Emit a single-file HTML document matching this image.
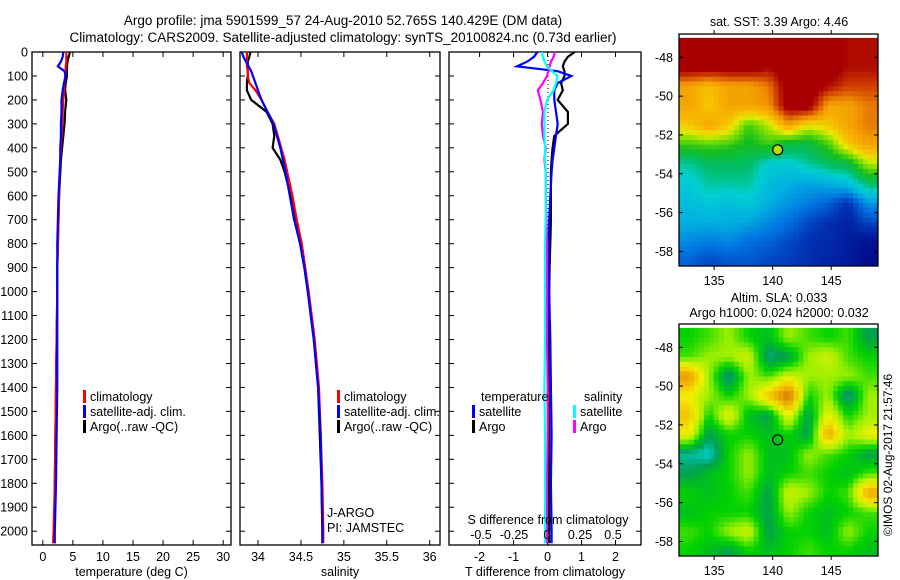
<!DOCTYPE html>
<html><head><meta charset="utf-8">
<style>
html,body{margin:0;padding:0;background:#fff;}
svg{display:block;font-family:"Liberation Sans",sans-serif;}
text{fill:#000;}
</style></head>
<body>
<svg id="fig" width="900" height="580" viewBox="0 0 900 580" xmlns="http://www.w3.org/2000/svg">
<g font-size="13.5" text-anchor="middle">
<text x="343" y="25">Argo profile: jma 5901599_57 24-Aug-2010 52.765S 140.429E (DM data)</text>
<text x="343" y="42">Climatology: CARS2009. Satellite-adjusted climatology: synTS_20100824.nc (0.73d earlier)</text>
</g>
<g id="g1"></g>
<g id="g2"></g>
<g id="g3"></g>
<g id="m1"></g>
<g id="m2"></g>
<text x="0" y="0" font-size="12" text-anchor="middle" transform="translate(892,455) rotate(-90)">©IMOS 02-Aug-2017 21:57:46</text>
</svg>
<script>
const depths=[0,20,40,60,80,100,130,160,200,250,300,350,400,450,500,600,700,800,900,1000,1200,1400,1600,1800,2000,2050];
const tempClim=[3.9,3.9,3.9,3.8,3.8,3.7,3.6,3.5,3.4,3.3,3.2,3.1,3.0,2.9,2.8,2.7,2.6,2.5,2.4,2.4,2.3,2.2,2.1,2.0,1.8,1.7];
const tempSat=[3.4,3.3,3.0,2.5,3.6,3.8,3.5,3.3,3.1,3.1,3.0,3.0,2.9,2.9,2.8,2.6,2.5,2.4,2.4,2.4,2.4,2.4,2.3,2.2,2.0,2.0];
const tempArgo=[4.5,4.3,4.1,4.0,4.0,4.0,3.8,3.7,3.9,3.7,3.6,3.4,3.2,3.0,2.9,2.7,2.6,2.5,2.4,2.4,2.3,2.2,2.1,2.0,1.9,1.9];
const salClim=[33.87,33.87,33.87,33.87,33.88,33.88,33.9,33.97,34.04,34.11,34.19,34.23,34.27,34.31,34.34,34.40,34.45,34.51,34.55,34.59,34.66,34.71,34.73,34.75,34.76,34.76];
const salSat=[33.81,33.83,33.86,33.89,33.92,33.94,33.97,34.0,34.04,34.11,34.18,34.22,34.26,34.29,34.32,34.37,34.42,34.49,34.54,34.58,34.65,34.70,34.73,34.74,34.75,34.75];
const salArgo=[33.91,33.90,33.88,33.88,33.88,33.88,33.87,33.87,33.92,34.10,34.17,34.19,34.17,34.26,34.31,34.38,34.43,34.49,34.54,34.58,34.65,34.70,34.72,34.74,34.75,34.75];
const tDiffSat=[-0.3,-0.4,-0.6,-0.9,0.3,0.7,0.3,0.2,0.2,0.25,0.3,0.25,0.2,0.15,0.12,0.08,0.05,0.03,0.03,0.05,0.08,0.1,0.12,0.1,0.12,0.12];
const tDiffArgo=[0.8,0.6,0.5,0.45,0.5,0.5,0.4,0.45,0.3,0.6,0.6,0.2,0.15,0.12,0.1,0.1,0.1,0.08,0.06,0.05,0.05,0.05,0.05,0.05,0.05,0.05];
const sDiffSat=[-0.04,-0.03,-0.02,0,0.04,0.08,0.07,0.05,0,-0.02,-0.02,-0.02,-0.015,-0.015,-0.01,-0.01,-0.01,-0.015,-0.015,-0.015,-0.015,-0.02,-0.015,-0.015,-0.015,-0.015];
const sDiffArgo=[0.06,0.05,0.03,0.02,0.01,0.0,-0.03,-0.07,-0.05,-0.03,-0.04,-0.03,-0.01,-0.02,-0.01,-0.01,-0.005,0,0,0,0,0.005,0.005,0,0,0];
const depthTicks=[0,100,200,300,400,500,600,700,800,900,1000,1100,1200,1300,1400,1500,1600,1700,1800,1900,2000];
const tempTicks=[0,5,10,15,20,25,30];
const salTicks=[34,34.5,35,35.5,36];
const tDiffTicks=[-2,-1,0,1,2];
const sDiffTicks=[-0.5,-0.25,0,0.25,0.5];
const sstLats=[-47.5,-48.5,-49.5,-50.5,-51.5,-52.5,-53.5,-54.5,-55.5,-56.5,-57.5,-58.5];
const sstLons=[132.85,134.55,136.25,137.95,139.65,141.35,143.05,144.75,146.45,148.15];
const sstValues=[
[8,8,8,8,8,8,8,8,7.5,7.5],
[8,8,8,8,7.6,8,8,8,7.5,7.5],
[6,5.6,6,6,6.5,8,8,7.5,7,7],
[6,5.5,6,6,6.2,8,8,6,6,6.5],
[5.5,6,5.5,4.5,5,6,5.2,5.5,6,6.5],
[4.5,4.6,4.5,4.2,4.5,4,4,4.5,5.5,6],
[3.5,3.8,3.8,3.8,3.2,3.2,3.5,3.8,4,5],
[3.2,3.5,3.5,3.5,3,2.8,2.7,2.8,3,3.8],
[3,3.2,3,3.2,2.8,2.6,2.4,2.2,1.8,2.6],
[2.8,2.8,2.8,2.7,2.5,2.3,2,1.8,1.6,2],
[2.5,2.4,2.5,2.3,2.2,2,1.8,1.7,1.5,1.3],
[2.2,2.0,2.1,2.1,2.0,1.9,1.8,1.6,1.5,1.2]];
const slaValues=[
[0.1,0.12,0.15,0.1,0.08,0.15,0.12,0.1,0.12,0.05],
[0.12,0.15,0.15,0.18,0.03,0.05,0.15,0.18,0.12,0.1],
[0.3,0.15,0.02,0.15,0.12,0.18,0.15,0.15,0.15,0.12],
[0.2,0.15,0.1,0.15,0.25,0.35,0.1,0.15,0.02,0.15],
[0.25,0.1,0.2,0.08,0.05,0.2,0.05,0.2,0.1,0.15],
[0.2,0.05,0.1,0.1,0.08,0.1,0.05,0.28,0.15,0.2],
[0.02,0.0,0.1,0.15,0.08,0.08,0.15,0.12,0.1,0.05],
[0.05,0.08,0.1,0.15,0.08,0.1,0.12,0.1,0.08,0.12],
[0.1,0.08,0.1,0.12,0.05,0.18,0.15,0.1,0.12,0.28],
[0.08,0.1,0.1,0.1,0.05,0.15,0.1,0.08,0.1,0.12],
[0.12,0.1,0.15,0.18,0.05,0.1,0.1,0.08,0.15,0.1],
[0.1,0.08,0.05,0.1,0.08,0.1,0.12,0.1,0.1,0.08]];
const latTicks=[-48,-50,-52,-54,-56,-58];
const lonTicks=[135,140,145];
const argoPos=[140.429,-52.765];

const NS="http://www.w3.org/2000/svg";
function mk(p,tag,a,txt){const e=document.createElementNS(NS,tag);for(const k in a)e.setAttribute(k,a[k]);if(txt!==undefined)e.textContent=txt;p.appendChild(e);return e;}
const PT=52,PB=545;
const yD=d=>PT+d*0.2396;
function line(p){return p.map((q,i)=>(i?'L':'M')+q[0].toFixed(1)+','+q[1].toFixed(1)).join('');}

function panel(g,L,R,x0,x1,ticks,fmt,title,showY){
  const xs=v=>L+(v-x0)/(x1-x0)*(R-L);
  const fr=mk(g,'rect',{x:L,y:PT,width:R-L,height:PB-PT,fill:'none',stroke:'#000','stroke-width':1.3});
  
  depthTicks.forEach(d=>{const y=yD(d);
    mk(g,'line',{x1:L,x2:L+5,y1:y,y2:y,stroke:'#000'});mk(g,'line',{x1:R-5,x2:R,y1:y,y2:y,stroke:'#000'});
    if(showY){const t=mk(g,'text',{x:L-4,y:y+4.5,'font-size':12.5,'text-anchor':'end'},String(d));
      }});
  ticks.forEach(v=>{const x=xs(v);
    mk(g,'line',{x1:x,x2:x,y1:PB,y2:PB-5,stroke:'#000'});mk(g,'line',{x1:x,x2:x,y1:PT,y2:PT+5,stroke:'#000'});
    const t=mk(g,'text',{x:x,y:561,'font-size':12.5,'text-anchor':'middle'},fmt(v));
    });
  const at=mk(g,'text',{x:(L+R)/2,y:576,'font-size':12.5,'text-anchor':'middle'},title);
  
  return xs;
}
function series(g,xs,vals,col,name,w){
  const p=mk(g,'path',{d:line(vals.map((v,i)=>[xs(v),yD(depths[i])])),fill:'none',stroke:col,'stroke-width':w||2.2});
  
}
function legend(g,x,y,col,label,name){
  const b=mk(g,'rect',{x:x,y:y-11,width:3,height:13,fill:col});
  const t=mk(g,'text',{x:x+7,y:y,'font-size':12.5},label);
  
  
}
const g1=document.getElementById('g1');
const xT=panel(g1,32,231,-1.8,31.3,tempTicks,String,'temperature (deg C)',true);
series(g1,xT,tempArgo,'#000','temp-argo-line');
series(g1,xT,tempClim,'#f00','temp-climatology-line');
series(g1,xT,tempSat,'#00f','temp-satellite-line');
legend(g1,83,401,'#f00','climatology','legend-climatology');
legend(g1,83,416,'#00f','satellite-adj. clim.','legend-satellite');
legend(g1,83,431,'#000','Argo(..raw -QC)','legend-argo');
const g2=document.getElementById('g2');
const xS=panel(g2,240,440,33.79,36.12,salTicks,String,'salinity',false);
series(g2,xS,salArgo,'#000','sal-argo-line');
series(g2,xS,salClim,'#f00','sal-climatology-line');
series(g2,xS,salSat,'#00f','sal-satellite-line');
legend(g2,337,401,'#f00','climatology','legend-climatology');
legend(g2,337,416,'#00f','satellite-adj. clim.','legend-satellite');
legend(g2,337,431,'#000','Argo(..raw -QC)','legend-argo');
let t=mk(g2,'text',{x:327,y:517,'font-size':12.5},'J-ARGO');
t=mk(g2,'text',{x:327,y:532,'font-size':12.5},'PI: JAMSTEC');
const g3=document.getElementById('g3');
const xTD=panel(g3,449,641,-2.9,2.75,tDiffTicks,String,'T difference from climatology',false);
const xSD=v=>547+v*132;
mk(g3,'line',{x1:548,x2:548,y1:PT,y2:PB,stroke:'#000','stroke-dasharray':'1,3'});
series(g3,xTD,tDiffArgo,'#000','tdiff-argo-line');
series(g3,xTD,tDiffSat,'#00f','tdiff-satellite-line');
series(g3,xSD,sDiffArgo,'#f0f','sdiff-argo-line');
series(g3,xSD,sDiffSat,'#0ff','sdiff-satellite-line');
t=mk(g3,'text',{x:481,y:401,'font-size':12.5},'temperature');
t=mk(g3,'text',{x:584,y:401,'font-size':12.5},'salinity');
legend(g3,472,416,'#00f','satellite','legend-t-satellite');
legend(g3,472,431,'#000','Argo','legend-t-argo');
legend(g3,573,416,'#0ff','satellite','legend-s-satellite');
legend(g3,573,431,'#f0f','Argo','legend-s-argo');
t=mk(g3,'text',{x:548,y:524,'font-size':12.5,'text-anchor':'middle'},'S difference from climatology');
sDiffTicks.forEach(v=>{const e=mk(g3,'text',{x:xSD(v),y:539,'font-size':12.5,'text-anchor':'middle'},String(v));
  });

function interp(stops,v){
  if(v<=stops[0][0])return stops[0][1];
  for(let i=1;i<stops.length;i++){if(v<=stops[i][0]){const a=stops[i-1],b=stops[i],f=(v-a[0])/(b[0]-a[0]);
    return a[1].map((x,k)=>Math.round(x+(b[1][k]-x)*f));}}
  return stops[stops.length-1][1];
}
const sstCmap=[[1,[0,0,128]],[1.8,[0,48,176]],[2.3,[0,112,224]],[2.8,[0,176,224]],[3.3,[0,208,208]],[3.7,[0,190,110]],[4.3,[20,190,30]],[4.8,[128,224,0]],[5.2,[232,232,0]],[5.7,[248,184,0]],[6.3,[240,144,0]],[7,[208,64,0]],[7.6,[168,0,0]]];
const slaCmap=[[0,[0,208,208]],[0.05,[0,160,80]],[0.1,[0,210,0]],[0.15,[160,240,0]],[0.2,[240,240,0]],[0.27,[240,176,0]],[0.35,[208,112,0]]];
function sample(vals,fi,fj){
  const n=vals.length,m=vals[0].length;
  fi=Math.max(0,Math.min(n-1,fi));fj=Math.max(0,Math.min(m-1,fj));
  const i0=Math.floor(fi),j0=Math.floor(fj),i1=Math.min(n-1,i0+1),j1=Math.min(m-1,j0+1),a=fi-i0,b=fj-j0;
  return vals[i0][j0]*(1-a)*(1-b)+vals[i0][j1]*(1-a)*b+vals[i1][j0]*a*(1-b)+vals[i1][j1]*a*b;
}
function map(g,T,B,vals,cmap,titles,name){
  const L=679,R=878,lon0=132.0,lon1=149.0,lat0=-46.8,lat1=-58.75;
  const xs=v=>L+(v-lon0)/(lon1-lon0)*(R-L), ys=v=>T+(v-lat0)/(lat1-lat0)*(B-T);
  const dlon=sstLons[1]-sstLons[0], S=4;
  vals.forEach((row,i)=>row.forEach((v,j)=>{
    for(let a=0;a<S;a++)for(let b=0;b<S;b++){
      const la=sstLats[i]+0.5-(a+0.5)/S, lo=sstLons[j]-dlon/2+(b+0.5)*dlon/S;
      const fi=i-0.5+(a+0.5)/S, fj=j-0.5+(b+0.5)/S;
      const x0=Math.max(L,xs(lo-dlon/S/2)),x1=Math.min(R,xs(lo+dlon/S/2));
      const y0=Math.max(T,ys(la+0.5/S)),y1=Math.min(B,ys(la-0.5/S));
      if(x1<=x0||y1<=y0)continue;
      const c=interp(cmap,sample(vals,fi,fj));
      const r=mk(g,'rect',{x:x0.toFixed(2),y:y0.toFixed(2),width:(x1-x0+0.4).toFixed(2),height:(y1-y0+0.4).toFixed(2),fill:'rgb('+c.join(',')+')'});
      
      
    }
  }));
  const fr=mk(g,'rect',{x:L,y:T,width:R-L,height:B-T,fill:'none',stroke:'#000','stroke-width':1.3});
  
  latTicks.forEach(v=>{const y=ys(v);mk(g,'line',{x1:L,x2:L+4,y1:y,y2:y,stroke:'#000'});mk(g,'line',{x1:R-4,x2:R,y1:y,y2:y,stroke:'#000'});
    const e=mk(g,'text',{x:L-6,y:y+4.5,'font-size':12.5,'text-anchor':'end'},String(v));});
  lonTicks.forEach(v=>{const x=xs(v);mk(g,'line',{x1:x,x2:x,y1:B,y2:B+4,stroke:'#000'});mk(g,'line',{x1:x,x2:x,y1:T,y2:T-4,stroke:'#000'});
    const e=mk(g,'text',{x:x,y:B+19,'font-size':12.5,'text-anchor':'middle'},String(v));});
  const c=mk(g,'circle',{cx:xs(argoPos[0]),cy:ys(argoPos[1]),r:5,fill:name==='sst-map'?'#b0e000':'none',stroke:'#000','stroke-width':1.2});
  
  titles.forEach(tt=>{const e=mk(g,'text',{x:779,y:tt[1],'font-size':12.5,'text-anchor':'middle'},tt[0]);});
}
map(document.getElementById('m1'),34,266,sstValues,sstCmap,[['sat. SST: 3.39 Argo: 4.46',26]],'sst-map');
map(document.getElementById('m2'),324,556,slaValues,slaCmap,[['Altim. SLA: 0.033',302],['Argo h1000: 0.024 h2000: 0.032',317]],'sla-map');
</script>
</body></html>
